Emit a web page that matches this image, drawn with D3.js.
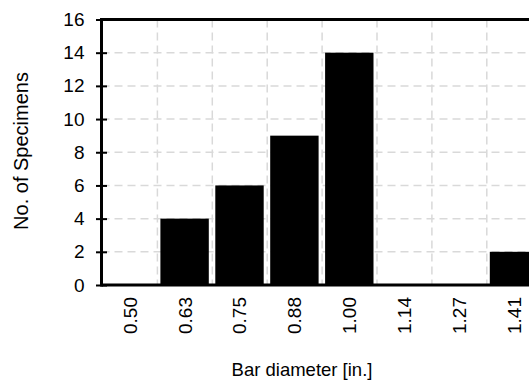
<!DOCTYPE html>
<html>
<head>
<meta charset="utf-8">
<script src="https://cdn.jsdelivr.net/npm/d3@7"></script>
<style>
  html, body { margin: 0; padding: 0; background: #fff; }
  svg { display: block; font-family: "Liberation Sans", Arial, sans-serif; }
</style>
</head>
<body>
<svg id="chart" width="529" height="381"></svg>
<script>
const categories = ["0.50", "0.63", "0.75", "0.88", "1.00", "1.14", "1.27", "1.41"];
const counts = [0, 4, 6, 9, 14, 0, 0, 2];
const yTicks = [0, 2, 4, 6, 8, 10, 12, 14, 16];

(function () {
const svg = d3.select("#chart");
const mLeft = 101.5, mTop = 19.5, mBottom = 285, step = 54.9;
const mRight = mLeft + 1 + step * categories.length;

const x = d3.scaleBand().domain(categories).range([mLeft + 1, mRight]).padding(0);
const y = d3.scaleLinear().domain([0, 16]).range([mBottom, mTop]);

const grid = svg.append("g").attr("stroke", "#d9d9d9").attr("stroke-width", 1.5).attr("stroke-dasharray", "8,5");
grid.selectAll("line.h").data(yTicks.filter(d => d > 0 && d < 16)).join("line")
  .attr("x1", mLeft).attr("x2", mRight).attr("y1", d => y(d)).attr("y2", d => y(d));
grid.selectAll("line.v").data(categories.slice(1)).join("line")
  .attr("x1", d => x(d)).attr("x2", d => x(d)).attr("y1", mTop).attr("y2", mBottom);

svg.append("g").selectAll("rect").data(categories).join("rect")
  .attr("x", d => x(d) + 3)
  .attr("width", x.bandwidth() - 6.5)
  .attr("y", (d, i) => y(counts[i]))
  .attr("height", (d, i) => mBottom - y(counts[i]))
  .attr("fill", "#000");

// frame
svg.append("line").attr("x1", mLeft).attr("x2", mLeft).attr("y1", mTop - 1.5).attr("y2", mBottom + 1.5).attr("stroke", "#000").attr("stroke-width", 3);
svg.append("line").attr("x1", mLeft).attr("x2", mRight).attr("y1", mBottom).attr("y2", mBottom).attr("stroke", "#000").attr("stroke-width", 3);
svg.append("line").attr("x1", mLeft).attr("x2", mRight).attr("y1", mTop).attr("y2", mTop).attr("stroke", "#000").attr("stroke-width", 3);

// y axis
const yAxis = d3.axisLeft(y).tickValues(yTicks).tickSize(0).tickPadding(0);
const ya = svg.append("g").attr("transform", `translate(${mLeft},0)`).call(yAxis);
ya.select(".domain").remove();
ya.selectAll(".tick line").remove();
ya.selectAll(".tick").append("line").attr("x1", -5.5).attr("x2", 5.5).attr("stroke", "#000").attr("stroke-width", 2);
ya.selectAll(".tick text").attr("x", -17).attr("font-size", 19).attr("font-family", "Liberation Sans, Arial, sans-serif").attr("fill", "#000");

// x axis
const xAxis = d3.axisBottom(x).tickSize(0).tickPadding(0);
const xa = svg.append("g").attr("transform", `translate(0,${mBottom})`).call(xAxis);
xa.select(".domain").remove();
xa.selectAll(".tick text")
  .attr("transform", "rotate(-90)")
  .attr("x", -12).attr("y", 0).attr("dy", "0.35em")
  .attr("text-anchor", "end")
  .attr("font-size", 19).attr("font-family", "Liberation Sans, Arial, sans-serif").attr("fill", "#000");

svg.append("text").attr("x", 302).attr("y", 376).attr("text-anchor", "middle")
  .attr("font-size", 18.5).attr("fill", "#000").text("Bar diameter [in.]");
svg.append("text").attr("transform", `translate(28,151) rotate(-90)`).attr("text-anchor", "middle")
  .attr("font-size", 20).attr("fill", "#000").text("No. of Specimens");
})();
</script>
</body>
</html>
